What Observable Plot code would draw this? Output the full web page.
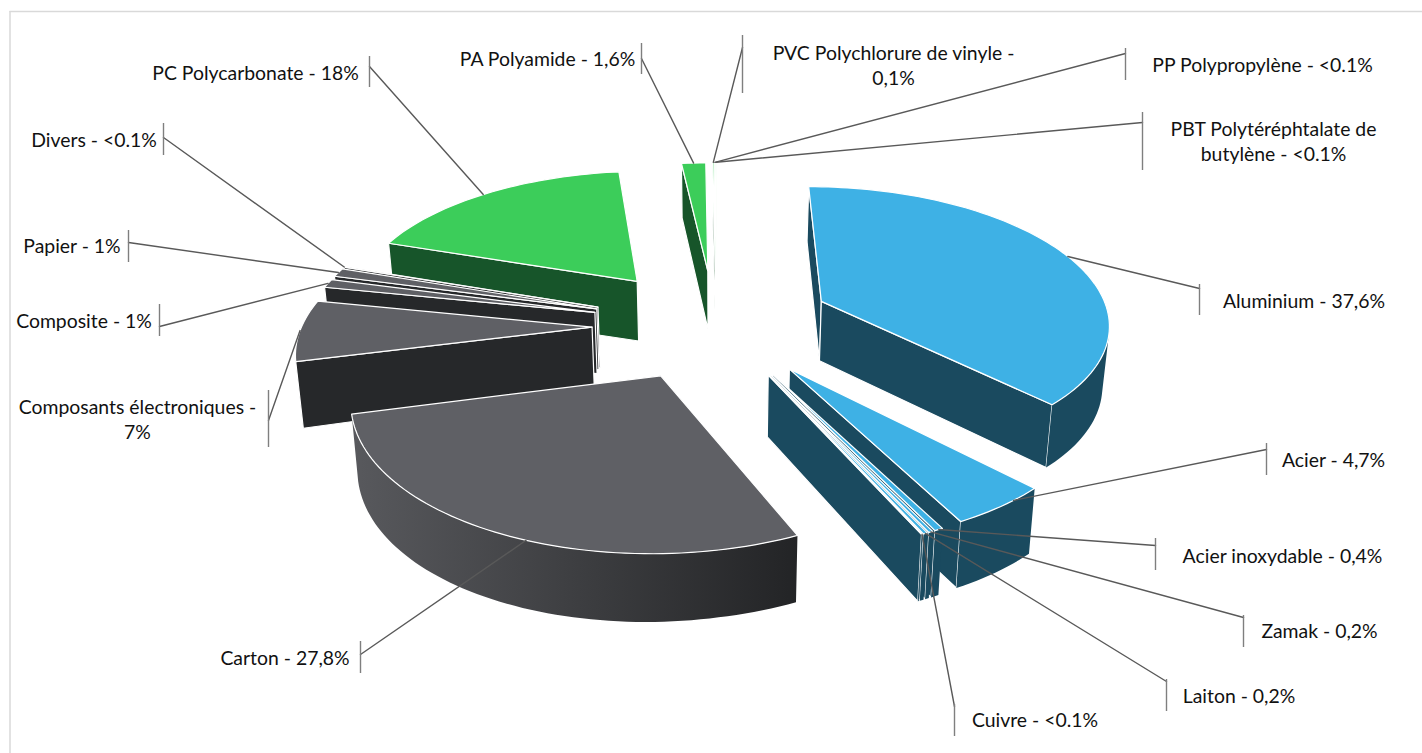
<!DOCTYPE html>
<html>
<head>
<meta charset="utf-8">
<script src="https://cdn.jsdelivr.net/npm/d3@7"></script>
<script src="https://cdn.jsdelivr.net/npm/@observablehq/plot@0.6"></script>
<style>
  html,body{margin:0;padding:0;background:#fff;}
  svg{display:block;}
</style>
</head>
<body>
<div id="chart"></div>
<script>
// ---- data, clockwise from twelve o'clock
const categories = ["Aluminium","Acier","Acier inoxydable","Zamak","Laiton","Cuivre","Carton","Composants électroniques","Composite","Papier","Divers","PC Polycarbonate","PA Polyamide","PVC Polychlorure de vinyle","PP Polypropylène","PBT Polytéréphtalate de butylène"];
const values = [37.6,4.7,0.4,0.2,0.2,0.05,27.8,7,1,1,0.05,18,1.6,0.1,0.05,0.05];
const families = ["metal","metal","metal","metal","metal","metal","grey","grey","grey","grey","grey","green","green","green","green","green"];

// ---- styles and layout
const topColors = {metal:"#3EB1E5",grey:"#5F6065",green:"#3CCD5A"};
const sideColors = {metal:"#1A4A5F",grey:"#26282A",green:"#17552A"};
const labelLines = [
  ["Aluminium - 37,6%"],["Acier - 4,7%"],["Acier inoxydable - 0,4%"],["Zamak - 0,2%"],["Laiton - 0,2%"],["Cuivre - <0.1%"],
  ["Carton - 27,8%"],["Composants électroniques -","7%"],["Composite - 1%"],["Papier - 1%"],["Divers - <0.1%"],
  ["PC Polycarbonate - 18%"],["PA Polyamide - 1,6%"],["PVC Polychlorure de vinyle -","0,1%"],["PP Polypropylène - <0.1%"],["PBT Polytéréphtalate de","butylène - <0.1%"]];
const labelX = [1303.5,1333,1282,1319,1238.5,1034.5,284.5,137,83.5,71.5,93.5,255,547,893,1262,1273];
const labelY = [301,460,556,631,696,720,658,407,321,246,140,73,59,53,65,129];
const tickX = [1199,1266,1155,1243,1166,954,360,268,159,128,163,369,641,742,1125,1142];
const tickTop = [284,443,538,615,679,704,641,390,304,230,123,56,43,35,48,112];
const tickBottom = [315,475,570,647,711,736,673,447,336,262,155,87,74,93,80,170];
const elbowY = [288,449,545,617,681,706,654,420,326,242,137,66,58,47,53,122];
const explodes = [0.4,0.41,0.41,0.41,0.41,0.41,0.42,0.43,0.43,0.43,0.43,0.42,0.395,0.4,0.4,0.4];
const explodeTurn = [0,0,0,0,0,0,0,-4,-4,-4,-4,-4,-1,0,0,0];
const anchorShift = [1,-3,0,0,0,0,-5,0,0,0,0,-1,0,0,0,0];

// ---- pie camera
const cx=716, cy=321, scaleX=289, scaleY=136, depthK=0.14, thick=60, thickK=0.08, squeeze=0.982;
const project=(X,Y,low)=>{
  const w=1+depthK*Y, sx=scaleX*X/w, sy=cy-scaleY*Y/w;
  if(!low) return [cx+sx,sy];
  return [cx+sx*squeeze, sy+thick*(1+0.06*Math.max(0,-X))/(1+thickK*Y)];
};
const total=d3.sum(values);
const area=p=>{let s=0;for(let i=1;i<p.length-1;i++){s+=(p[i][0]-p[0][0])*(p[i+1][1]-p[0][1])-(p[i+1][0]-p[0][0])*(p[i][1]-p[0][1]);}return s;};
const rad=d=>d*Math.PI/180;

let acc=0;
const slices=values.map((v,i)=>{
  const a0=acc/total*360; acc+=v; const a1=acc/total*360; const mid=(a0+a1)/2;
  const e=explodes[i], dir=mid+explodeTurn[i], ox=e*Math.sin(rad(dir)), oy=e*Math.cos(rad(dir));
  const at=(deg,low)=>project(ox+Math.sin(rad(deg)),oy+Math.cos(rad(deg)),low);
  return {i,a0,a1,mid,at,apex:low=>project(ox,oy,low),family:families[i],name:categories[i],depth:Math.cos(rad(mid))};
});

const faces=[];
let fid=0;
const addFace=(poly,fill,stroke,sw)=>{const id=fid++;[...poly,poly[0]].forEach(p=>faces.push({id,x:p[0],y:p[1],fill,stroke,sw}));};
[...slices].sort((p,q)=>q.depth-p.depth).forEach(s=>{
  const side=sideColors[s.family], top=topColors[s.family];
  const st=[s.apex(0),s.at(s.a0,0),s.at(s.a0,1),s.apex(1)];
  const en=[s.apex(0),s.at(s.a1,0),s.at(s.a1,1),s.apex(1)];
  if(area(st)<0) addFace(st,side,"#FFFFFF",1.2);
  if(area(en)>0) addFace(en,side,"#FFFFFF",1.2);
  const n=Math.max(1,Math.ceil((s.a1-s.a0)/1.5));
  const steps=d3.range(n+1).map(j=>s.a0+(s.a1-s.a0)*j/n);
  let run=[];
  const flush=()=>{
    if(run.length>1){
      const poly=[...run.map(d=>s.at(d,0)),...[...run].reverse().map(d=>s.at(d,1))];
      addFace(poly,s.family==="grey"?"url(#greyWall)":side,"none",0);
    }
    run=[];
  };
  for(let j=0;j<n;j++){
    const q=[s.at(steps[j],0),s.at(steps[j+1],0),s.at(steps[j+1],1),s.at(steps[j],1)];
    if(area(q)<0){ if(!run.length) run.push(steps[j]); run.push(steps[j+1]); }
    else flush();
  }
  flush();
  addFace([s.apex(0),...steps.map(d=>s.at(d,0))],top,"#FFFFFF",1.2);
});

const anchors=slices.map((s,i)=>s.at(s.mid+anchorShift[i],0));
const leaders=slices.flatMap((s,i)=>[{i,x:tickX[i],y:elbowY[i]},{i,x:anchors[i][0],y:anchors[i][1]}]);
const ticks=slices.map((s,i)=>({x:tickX[i],y1:tickTop[i],y2:tickBottom[i]}));
const lineH=25.5;
const labels=labelLines.flatMap((ls,i)=>ls.map((t,k)=>({t,x:labelX[i],y:labelY[i]+k*lineH})));

const gradientDefs=()=>{
  const defs=d3.create("svg:defs");
  const g=defs.append("linearGradient").attr("id","greyWall").attr("gradientUnits","userSpaceOnUse")
    .attr("x1",352).attr("x2",797).attr("y1",0).attr("y2",0);
  g.append("stop").attr("offset","0%").attr("stop-color","#58595D");
  g.append("stop").attr("offset","100%").attr("stop-color","#232426");
  return defs.node();
};

const chart=Plot.plot({
  width:1422,height:753,margin:0,
  x:{domain:[0,1422],range:[0,1422],axis:null},
  y:{domain:[0,753],range:[0,753],axis:null},
  style:{background:"#fff",fontFamily:"Lato, sans-serif"},
  marks:[
    gradientDefs,
    Plot.ruleY([11],{x1:9.5,x2:1422,stroke:"#D9D9D9",strokeWidth:1.5}),
    Plot.ruleX([9.5],{y1:11,y2:753,stroke:"#D9D9D9",strokeWidth:1.5}),
    Plot.line(faces,{x:"x",y:"y",z:"id",fill:"fill",stroke:"stroke",strokeWidth:"sw",curve:"linear",strokeLinejoin:"round"}),
    Plot.line(leaders,{x:"x",y:"y",z:"i",stroke:"#595959",strokeWidth:1.4}),
    Plot.ruleX(ticks,{x:"x",y1:"y1",y2:"y2",stroke:"#7F7F7F",strokeWidth:1.4}),
    Plot.text(labels,{x:"x",y:"y",text:"t",textAnchor:"middle",lineAnchor:"middle",fontSize:19.4,fill:"#111"})
  ]
});
document.getElementById("chart").appendChild(chart);
</script>
</body>
</html>
